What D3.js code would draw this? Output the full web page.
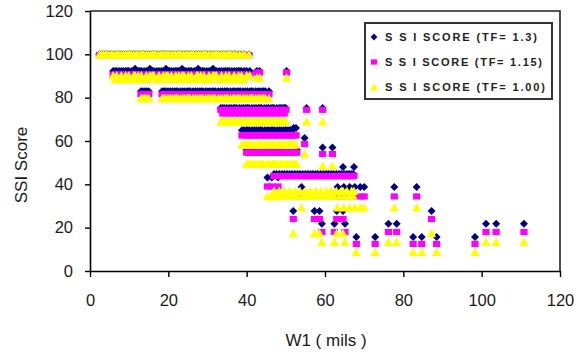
<!DOCTYPE html>
<html>
<head>
<meta charset="utf-8">
<script src="https://cdn.jsdelivr.net/npm/d3@7"></script>
<style>
  html, body { margin: 0; padding: 0; background: #fff; }
  svg { display: block; font-family: Arial, "Liberation Sans", sans-serif; }
</style>
</head>
<body>
<svg id="chart" width="578" height="356"></svg>
<script>
// SSI scores fall on a handful of levels; each level lists the W1 deflections
// (mils) of the sections scored there, and its score under each traffic factor.
const w1LevelA  = [2.4, 2.9, 3.4, 3.9, 4.3, 4.9, 5.5, 6.0, 6.6, 7.0, 7.4, 8.0, 8.6, 9.1, 9.7, 10.1, 10.5, 11.2, 11.8, 12.3, 12.9, 13.3, 13.7, 14.3, 14.9, 15.5, 16.0, 16.4, 16.8, 17.5, 18.1, 18.6, 19.2, 19.6, 20.0, 20.7, 21.3, 21.8, 22.4, 22.8, 23.2, 23.9, 24.5, 25.0, 25.6, 26.0, 26.4, 27.1, 27.7, 28.2, 28.8, 29.2, 29.6, 30.3, 30.9, 31.5, 32.0, 32.4, 32.8, 33.5, 34.1, 34.6, 35.2, 35.6, 36.0, 36.7, 37.3, 38.2, 39.0, 39.5, 40.6];
const w1LevelB  = [5.9, 6.8, 8.0, 9.1, 9.9, 11.2, 12.3, 13.1, 14.4, 15.9, 16.3, 17.6, 18.7, 19.9, 20.8, 21.9, 22.7, 24.0, 25.1, 25.9, 27.2, 28.3, 29.1, 30.4, 31.9, 32.3, 33.6, 34.7, 35.5, 36.8, 37.9, 38.7, 40.0, 40.8];
const w1LevelB2 = [11.5, 15.3, 19.4, 23.5, 27.6, 31.4];
const w1LevelB3 = [6.4, 7.4, 8.5, 9.5, 10.6, 11.8, 12.7, 13.8, 15.0, 17.0, 18.2, 20.3, 21.4, 22.3, 23.1, 24.5, 25.5, 26.6, 28.0, 28.7, 29.8, 30.9, 33.0, 34.2, 35.1, 36.2, 37.4, 38.3, 39.4];
const w1LevelB4 = [42.6, 43.3, 50.2];
const w1LevelC  = [13.0, 13.5, 14.0, 14.5, 15.0, 18.4, 18.9, 19.3, 19.9, 20.5, 21.0, 21.6, 22.0, 22.4, 23.1, 23.7, 24.2, 24.8, 25.2, 25.6, 26.3, 26.9, 27.4, 28.0, 28.4, 28.8, 29.5, 30.1, 30.6, 31.2, 31.6, 32.0, 32.7, 33.3, 33.8, 34.4, 34.8, 35.2, 35.9, 36.5, 37.0, 37.6, 38.0, 38.4, 39.1, 39.7, 40.2, 40.8, 41.2, 41.6, 42.3, 42.9, 43.4, 44.0, 44.4, 44.8, 45.7];
const w1LevelD  = [33.4, 34.3, 35.5, 36.6, 37.4, 38.7, 39.8, 40.6, 41.9, 43.0, 43.8, 45.1, 46.2, 47.0, 48.3, 49.2, 50.0, 55.3, 59.4];
const w1LevelD2 = [33.9, 34.9, 36.0, 37.0, 38.1, 39.2, 40.2, 41.3, 42.4, 43.4, 44.5, 45.6, 46.6, 47.7, 48.7, 49.6];
const w1LevelE  = [38.8, 39.3, 39.9, 40.3, 40.7, 41.4, 42.0, 42.5, 43.1, 43.5, 43.9, 44.6, 45.2, 45.7, 46.3, 46.7, 47.1, 47.8, 48.4, 48.9, 49.5, 49.9, 50.3, 50.8, 51.2, 51.6];
const w1LevelE2 = [52.0, 52.6];
const w1LevelE3 = [54.8];
const w1LevelF  = [40.0, 40.5, 41.1, 41.7, 42.3, 42.8, 43.4, 43.8, 44.2, 44.9, 45.5, 46.0, 46.6, 47.0, 47.4, 48.1, 48.7, 49.2, 49.8, 50.2, 50.6, 51.3, 51.9, 52.3, 52.8];
const w1LevelF2 = [59.4, 61.9];
const w1LevelG1 = [47.0, 48.3, 49.6, 51.0, 52.3, 53.6, 55.0, 56.3, 57.6, 58.9, 60.3, 61.6, 62.9, 64.2, 65.6, 66.8];
const w1LevelG2 = [47.6, 49.0, 50.3, 51.6, 53.0, 54.3, 55.6, 56.9, 58.2, 59.6, 60.9, 62.2, 63.6, 64.9, 66.2, 67.2];
const w1LevelG3 = [45.3, 46.4, 48.0];
const w1LevelG4 = [64.6, 67.4];
const w1LevelH  = [54.0, 63.2, 64.8, 66.3, 67.6, 69.0, 70.0, 77.7, 83.4];
const w1LevelJ  = [51.9, 57.3, 58.6, 63.0, 64.6, 87.2];
const w1LevelK  = [59.2, 62.4, 65.1, 76.2, 78.3, 101.1, 103.7, 110.8];
const w1LevelL  = [68.0, 72.8, 82.5, 84.7, 88.5, 98.3];

const levelW1 = [w1LevelA, w1LevelB, w1LevelB2, w1LevelB3, w1LevelB4, w1LevelC, w1LevelD, w1LevelD2,
                 w1LevelE, w1LevelE2, w1LevelE3, w1LevelF, w1LevelF2, w1LevelG1, w1LevelG2, w1LevelG3,
                 w1LevelG4, w1LevelH, w1LevelJ, w1LevelK, w1LevelL];
// score of each level, in the same order as levelW1
const ssiTF130 = [100,  92.3, 93.4, 92.3, 92.3, 83.0, 75.2, 75.2, 65.0, 66.0, 61.4, 56.0, 57.0, 44.8, 44.8, 43.2, 48.0, 38.8, 27.7, 21.8, 15.7];
const ssiTF115 = [99.6, 90.6, 90.6, 90.6, 91.6, 81.6, 74.4, 72.7, 62.6, 62.6, 58.6, 54.6, 54.0, 43.8, 43.8, 39.0, 44.0, 34.4, 24.0, 18.0, 12.5];
const ssiTF100 = [100,  90.3, 90.3, 88.5, 89.2, 79.8, 69.0, 69.0, 58.4, 58.4, 54.2, 49.4, 48.5, 37.0, 34.8, 34.5, 37.0, 29.3, 17.5, 13.4, 8.8];

const seriesLabels = ["S S I SCORE (TF= 1.3)", "S S I SCORE (TF= 1.15)", "S S I SCORE (TF= 1.00)"];
const seriesColors = ["#000080", "#ff00ff", "#ffff00"];
const seriesShapes = ["diamond", "square", "triangle"];
const xTickValues = [0, 20, 40, 60, 80, 100, 120];
const yTickValues = [0, 20, 40, 60, 80, 100, 120];
const xTitle = "W1 ( mils )";
const yTitle = "SSI Score";

const svg = d3.select("#chart");
const plot = { left: 90, right: 560, top: 11, bottom: 271 };

const x = d3.scaleLinear().domain([0, 120]).range([plot.left, plot.right]);
const y = d3.scaleLinear().domain([0, 120]).range([plot.bottom, plot.top]);

// marker outlines, centred on the point
function markerPath(shape, k) {
  if (shape === "diamond") return `M0,${-4 * k}L${4 * k},0L0,${4 * k}L${-4 * k},0Z`;
  if (shape === "square") return `M${-3.6 * k},${-3.1 * k}H${3.6 * k}V${3.1 * k}H${-3.6 * k}Z`;
  return `M0,${-4.4 * k}L${4.6 * k},${4.1 * k}L${-4.6 * k},${4.1 * k}Z`;
}

// plot frame (top and right edges)
svg.append("path")
  .attr("d", `M${plot.left},${plot.top}H${plot.right}V${plot.bottom}`)
  .attr("fill", "none").attr("stroke", "#222").attr("stroke-width", 1.6);

// flatten levels into one point table per series; later series sit on top
const seriesScores = [ssiTF130, ssiTF115, ssiTF100];
seriesScores.forEach((scores, i) => {
  const pts = [];
  levelW1.forEach((ws, li) => ws.forEach(w => pts.push({ w, v: scores[li] })));
  svg.append("g").selectAll("path")
    .data(pts)
    .join("path")
    .attr("transform", d => `translate(${x(d.w)},${y(d.v)})`)
    .attr("d", markerPath(seriesShapes[i], 1))
    .attr("fill", seriesColors[i]);
});

// axes
const xAxis = svg.append("g")
  .attr("transform", `translate(0,${plot.bottom})`)
  .call(d3.axisBottom(x).tickValues(xTickValues).tickSize(6).tickSizeOuter(0).tickPadding(17));
const yAxis = svg.append("g")
  .attr("transform", `translate(${plot.left},0)`)
  .call(d3.axisLeft(y).tickValues(yTickValues).tickSize(5).tickSizeOuter(0).tickPadding(12));

[xAxis, yAxis].forEach(g => {
  g.select(".domain").attr("stroke", "#000").attr("stroke-width", 1.6);
  g.selectAll(".tick line").attr("stroke", "#000").attr("stroke-width", 1.4);
  g.selectAll(".tick text")
    .attr("fill", "#1a1a1a")
    .style("font-size", "16.5px")
    .style("font-family", "Arial, 'Liberation Sans', sans-serif");
});

// axis titles
svg.append("text")
  .attr("x", 326).attr("y", 346)
  .attr("text-anchor", "middle")
  .style("font-size", "17px").attr("fill", "#1a1a1a")
  .text(xTitle);
svg.append("text")
  .attr("transform", "translate(27,165) rotate(-90)")
  .attr("text-anchor", "middle")
  .style("font-size", "17px").attr("fill", "#1a1a1a")
  .text(yTitle);

// legend
const legend = svg.append("g");
legend.append("rect")
  .attr("x", 365).attr("y", 23).attr("width", 187).attr("height", 76)
  .attr("fill", "#fff").attr("stroke", "#333").attr("stroke-width", 2);
const rowY = [37, 62, 87];
const rowWidth = [152, 157, 160];
seriesLabels.forEach((label, i) => {
  legend.append("path")
    .attr("transform", `translate(374,${rowY[i]})`)
    .attr("d", markerPath(seriesShapes[i], 0.85))
    .attr("fill", seriesColors[i]);
  legend.append("text")
    .attr("x", 385).attr("y", rowY[i] + 4)
    .attr("textLength", rowWidth[i])
    .attr("lengthAdjust", "spacing")
    .style("font-size", "11px").style("font-weight", "bold")
    .attr("fill", "#222")
    .text(label);
});
</script>
</body>
</html>
